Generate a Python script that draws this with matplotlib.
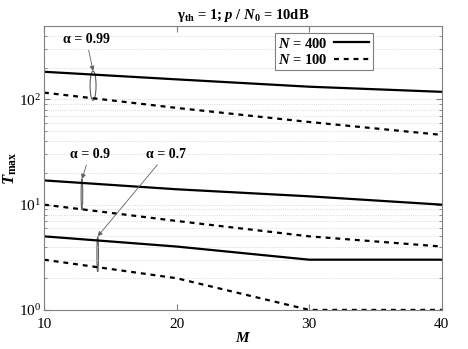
import numpy as np
import matplotlib
matplotlib.use("Agg")
import matplotlib.pyplot as plt
from matplotlib.patches import Ellipse
from matplotlib.lines import Line2D

plt.rcParams["font.family"] = ["Liberation Serif", "DejaVu Serif"]
plt.rcParams["mathtext.fontset"] = "custom"
plt.rcParams["mathtext.rm"] = "Liberation Serif:bold"
plt.rcParams["mathtext.it"] = "Liberation Serif:italic:bold"
plt.rcParams["mathtext.bf"] = "Liberation Serif:bold"

# data
M = [10, 20, 30, 40]
t_099_n400 = [183, 155, 132, 118]
t_099_n100 = [116, 83, 61, 46]
t_09_n400 = [17, 14, 12, 10]
t_09_n100 = [10, 7, 5, 4]
t_07_n400 = [5, 4, 3, 3]
t_07_n100 = [3, 2, 1, 1]

GRAY = "#7f7f7f"
fig = plt.figure(figsize=(4.68, 3.49), dpi=100)
ax = fig.add_axes([0.094, 0.112, 0.850, 0.814])

for s400, s100 in [(t_099_n400, t_099_n100), (t_09_n400, t_09_n100), (t_07_n400, t_07_n100)]:
    ax.plot(M, s400, color="black", lw=1.6, ls="-")
    ax.plot(M, s100, color="black", lw=1.6, ls=(0, (2.2, 2.2)))

ax.set_yscale("log")
ax.set_xlim(10, 40)
ax.set_ylim(1, 500)
ax.set_xticks([10, 20, 30, 40])
ax.grid(axis="y", which="both", ls=":", color="#cfcfcf", lw=0.6)
ax.tick_params(which="both", direction="in", top=True, right=True, color=GRAY, labelsize=11)
ax.tick_params(axis="y", pad=2)
ax.tick_params(axis="x", pad=6)
ax.tick_params(which="major", length=4)
ax.tick_params(which="minor", length=2)
for sp in ax.spines.values():
    sp.set_color(GRAY)
    sp.set_linewidth(0.8)

ax.set_xlabel("$M$", fontsize=11, labelpad=0)
ax.set_ylabel(r"$T_{\mathrm{max}}$", fontsize=12, labelpad=0)
ax.set_title(r"$\mathrm{\gamma_{th}}$ = 1; $p$ / $N_{\mathrm{0}}$ = 10dB",
             fontsize=10.5, fontweight="bold", pad=5)

# legend
h = [Line2D([], [], color="black", lw=1.6, ls="-"),
     Line2D([], [], color="black", lw=1.6, ls=(0, (2.2, 2.2)))]
leg = ax.legend(h, ["$N$ = 400", "$N$ = 100"], loc="upper left",
                bbox_to_anchor=(0.58, 0.975), markerfirst=False, fancybox=False,
                edgecolor=GRAY, framealpha=1, prop={"weight": "bold", "size": 10.5},
                handlelength=2.4, handletextpad=0.4, borderpad=0.25, labelspacing=0.15,
                borderaxespad=0)
leg.get_frame().set_linewidth(0.8)

# ellipses grouping the N curves for each alpha
to_axes = ax.transScale + ax.transLimits
def ellipse(m, lo, hi, w):
    x0, y0 = to_axes.transform((m, lo))
    _, y1 = to_axes.transform((m, hi))
    ax.add_patch(Ellipse((x0, (y0 + y1) / 2), w, abs(y1 - y0), transform=ax.transAxes,
                         fill=False, edgecolor="#606060", lw=0.8))

ellipse(13.7, 98, 186, 0.015)
ellipse(12.86, 8.9, 17.5, 0.004)
ellipse(14.05, 2.3, 5.0, 0.004)

arrow = dict(arrowstyle="-|>", color="#606060", lw=0.6, mutation_scale=7, shrinkA=1, shrinkB=0)
ax.annotate("α = 0.99", xy=(13.7, 186), xytext=(13.2, 370), ha="center", va="center",
            fontsize=10, fontweight="bold", arrowprops=arrow)
ax.annotate("α = 0.9", xy=(12.86, 17.5), xytext=(13.45, 30), ha="center", va="center",
            fontsize=10, fontweight="bold", arrowprops=arrow)
ax.annotate("α = 0.7", xy=(14.05, 5.0), xytext=(19.2, 30), ha="center", va="center",
            fontsize=10, fontweight="bold", arrowprops=arrow)

fig.savefig("out.png", dpi=100)
